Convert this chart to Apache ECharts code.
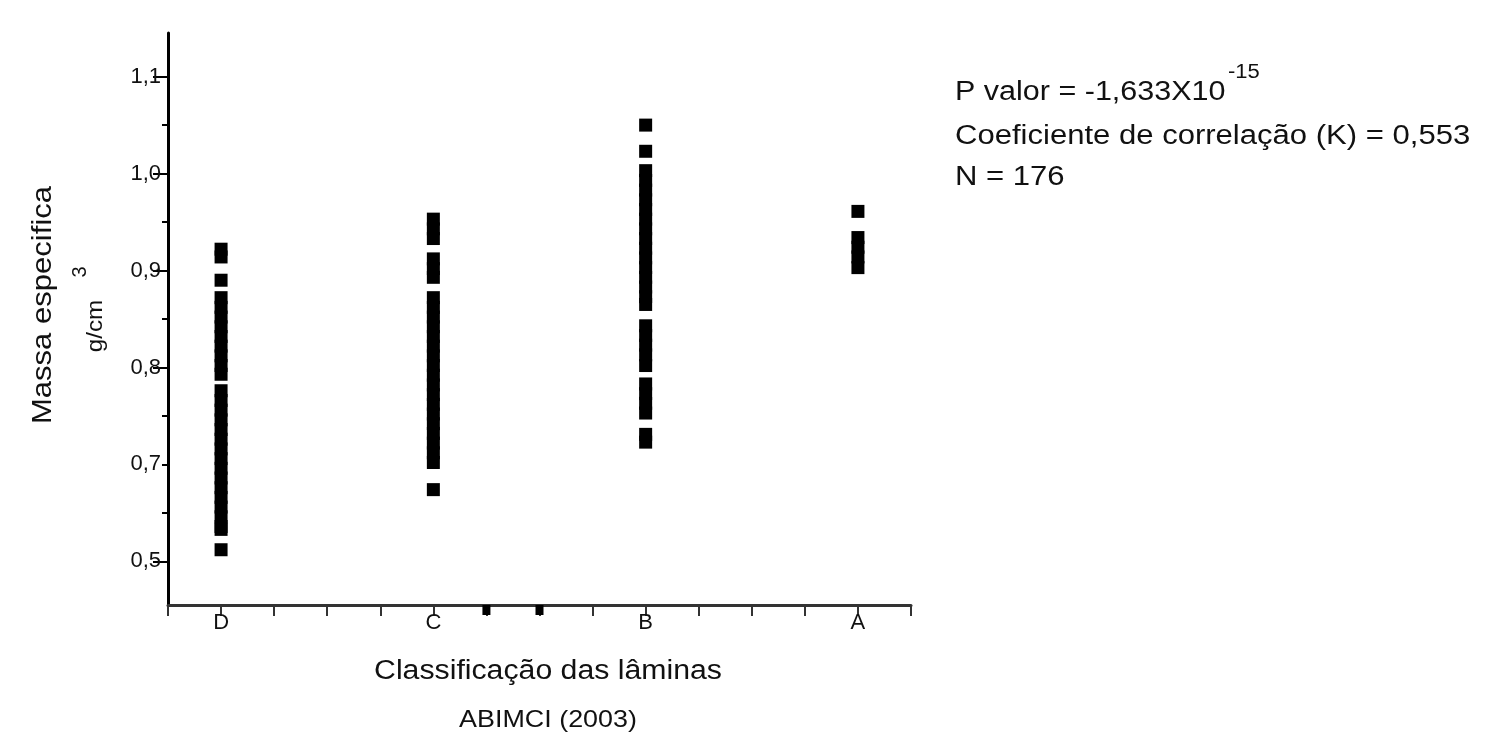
<!DOCTYPE html>
<html><head><meta charset="utf-8">
<script src="https://cdn.jsdelivr.net/npm/echarts@6/dist/echarts.min.js"></script>
<style>html,body{margin:0;padding:0;background:#fff}#c{width:1490px;height:754px}</style>
</head><body><div id="c"></div>
<script>
// ---- data ----
const categories = ['D', 'C', 'B', 'A'];
const categoryPositions = [1, 2, 3, 4];
const xTickLabelValues = [1, 2, 3, 4];
const yTickValues = [0.6, 0.7, 0.8, 0.9, 1.0, 1.1];
const yTickLabels = ['0,5', '0,7', '0,8', '0,9', '1,0', '1,1'];
const yMajorTicks = [0.6, 0.8, 0.9, 1.0, 1.1];
const yMinorTicks = [0.65, 0.7, 0.75, 0.85, 0.95, 1.05];
const valuesD = [0.922, 0.914, 0.890,
  0.872, 0.862, 0.852, 0.842, 0.832, 0.822, 0.812, 0.802, 0.793,
  0.776, 0.766, 0.756, 0.746, 0.736, 0.726, 0.716, 0.706, 0.696, 0.686, 0.676, 0.666, 0.656, 0.646, 0.636, 0.633,
  0.612];
const valuesC = [0.953, 0.943, 0.933,
  0.912, 0.902, 0.893,
  0.872, 0.862, 0.852, 0.842, 0.832, 0.822, 0.812, 0.802, 0.792, 0.782, 0.772, 0.762, 0.752, 0.742, 0.732, 0.722, 0.712, 0.702,
  0.674];
const valuesB = [1.050, 1.023,
  1.003, 0.993, 0.983, 0.973, 0.963, 0.953, 0.943, 0.933, 0.923, 0.913, 0.903, 0.893, 0.883, 0.873, 0.865,
  0.843, 0.833, 0.823, 0.813, 0.802,
  0.783, 0.773, 0.763, 0.753,
  0.731, 0.723];
const valuesA = [0.961, 0.934, 0.924, 0.914, 0.903];
const axisMarkPositions = [2.25, 2.5];
const yTitle = 'Massa especifica';
const yUnit = 'g/cm';
const yUnitExp = '3';
const xTitle = 'Classificação das lâminas';
const xSubtitle = 'ABIMCI (2003)';
const statLines = ['P valor = -1,633X10', 'Coeficiente de correlação (K) = 0,553', 'N = 176'];
const pExp = '-15';

// ---- build ----
const allValues = [valuesD, valuesC, valuesB, valuesA];
const points = [];
allValues.forEach((vals, i) => vals.forEach(v => points.push([categoryPositions[i], v])));
const Y_MIN = 0.555, Y_MAX = 1.145;
const markPoints = axisMarkPositions.map(x => [x, Y_MIN]);
const FONT = '"Liberation Sans", Arial, sans-serif';
const near = (a, b) => Math.abs(a - b) < 1e-6;

const chart = echarts.init(document.getElementById('c'), null, {renderer: 'canvas'});
function txt(text, x, y, size, opts) {
  opts = opts || {};
  return {
    type: 'text', x: x, y: y, rotation: opts.rotation || 0,
    scaleX: opts.scaleX || 1, scaleY: 1,
    style: {text: text, fill: '#111', font: size + 'px ' + FONT,
      textAlign: opts.align || 'left', textVerticalAlign: 'middle'}
  };
}
const option = {
  backgroundColor: '#fff',
  animation: false,
  grid: {left: 168, right: 579, top: 33, bottom: 149, containLabel: false},
  xAxis: {
    type: 'value', min: 0.75, max: 4.25, interval: 0.25,
    axisLine: {show: true, lineStyle: {color: '#333', width: 3}},
    axisTick: {show: true, length: 11, lineStyle: {color: '#333', width: 2}},
    axisLabel: {show: true, customValues: xTickLabelValues, margin: 7,
      fontFamily: FONT, fontSize: 22, color: '#111',
      formatter: v => categories[categoryPositions.findIndex(p => near(p, v))] || ''},
    splitLine: {show: false}
  },
  yAxis: [{
    type: 'value', min: Y_MIN, max: Y_MAX, position: 'left',
    axisLine: {show: true, lineStyle: {color: '#000', width: 3}},
    axisTick: {show: true, customValues: yMajorTicks, length: 15, lineStyle: {color: '#000', width: 2}},
    axisLabel: {show: true, customValues: yTickValues, margin: 7,
      fontFamily: FONT, fontSize: 22, color: '#111',
      formatter: v => yTickLabels[yTickValues.findIndex(t => near(t, v))] || ''},
    splitLine: {show: false}
  }, {
    type: 'value', min: Y_MIN, max: Y_MAX, position: 'left',
    axisLine: {show: false},
    axisTick: {show: true, customValues: yMinorTicks, length: 6, lineStyle: {color: '#000', width: 2}},
    axisLabel: {show: false},
    splitLine: {show: false}
  }],
  series: [{
    type: 'scatter', data: points, symbol: 'rect', symbolSize: [13, 13],
    itemStyle: {color: '#000', opacity: 1}, z: 3
  }, {
    type: 'scatter', data: markPoints, symbol: 'rect', symbolSize: [8, 10],
    symbolOffset: [0, 5], clip: false, itemStyle: {color: '#000', opacity: 1}, z: 4
  }],
  graphic: [
    txt(yTitle, 44, 305, 27, {rotation: Math.PI / 2, align: 'center', scaleX: 1.15}),
    txt(yUnit, 96, 326, 22, {rotation: Math.PI / 2, align: 'center', scaleX: 1.1}),
    txt(yUnitExp, 80, 272, 20, {rotation: Math.PI / 2, align: 'center'}),
    txt(xTitle, 548, 672, 27, {align: 'center', scaleX: 1.12}),
    txt(xSubtitle, 548, 720, 24, {align: 'center', scaleX: 1.12}),
    txt(statLines[0], 955, 93, 27, {scaleX: 1.13}),
    txt(pExp, 1228, 72, 20, {scaleX: 1.1}),
    txt(statLines[1], 955, 137, 27, {scaleX: 1.15}),
    txt(statLines[2], 955, 178, 27, {scaleX: 1.15})
  ]
};
chart.setOption(option);
</script>
</body></html>
